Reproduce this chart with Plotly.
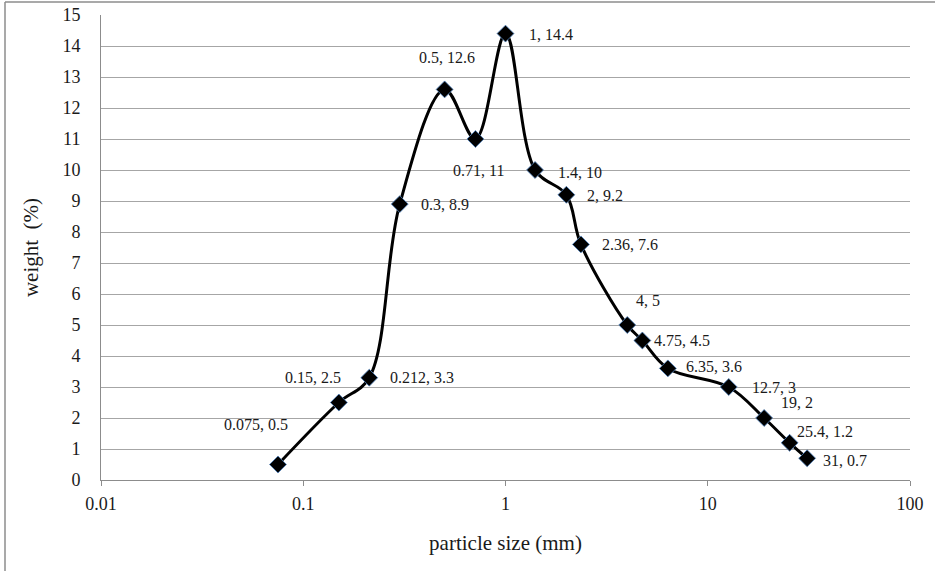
import math
import plotly.graph_objects as go

# data
particle_size = [0.075, 0.15, 0.212, 0.3, 0.5, 0.71, 1, 1.4, 2, 2.36, 4, 4.75, 6.35, 12.7, 19, 25.4, 31]
weight = [0.5, 2.5, 3.3, 8.9, 12.6, 11, 14.4, 10, 9.2, 7.6, 5, 4.5, 3.6, 3, 2, 1.2, 0.7]
x_ticks = [0.01, 0.1, 1, 10, 100]
x_tick_labels = ["0.01", "0.1", "1", "10", "100"]
y_ticks = list(range(0, 16))

# label placement (anchor, xshift, yshift) per point
label_pos = [
    ("right", 12, 40), ("right", 4, 25), ("left", 19, 0), ("left", 19, 0),
    ("center", 2, 32), ("center", 3, -31), ("left", 21, -1), ("left", 21, -2),
    ("left", 19, -1), ("left", 19, 0), ("left", 7, 25), ("left", 10, 0),
    ("left", 16, 2), ("left", 21, 0), ("left", 15, 16), ("left", 5, 11),
    ("left", 14, -2),
]

fig = go.Figure()
fig.add_trace(go.Scatter(
    x=particle_size, y=weight, mode="lines+markers",
    line=dict(color="black", width=3, shape="spline", smoothing=1.0),
    marker=dict(symbol="diamond", size=13, color="black",
                line=dict(color="#4f81bd", width=0.8)),
    showlegend=False, hoverinfo="x+y",
))

font_family = "Liberation Serif"
for xv, yv, (anc, dx, dy) in zip(particle_size, weight, label_pos):
    fig.add_annotation(
        x=math.log10(xv), y=yv, xref="x", yref="y",
        text=f"{xv:g}, {yv:g}", showarrow=False,
        xanchor=anc, yanchor="middle", xshift=dx, yshift=dy,
        font=dict(family=font_family, size=16, color="#1a1a1a"),
    )

fx0 = (5 - 101) / 809
fy1 = 1 + (15 - 2) / 465
fig.update_layout(
    width=935, height=571,
    margin=dict(l=101, r=25, t=15, b=91),
    paper_bgcolor="white", plot_bgcolor="white",
    font=dict(family=font_family, color="#1a1a1a"),
    xaxis=dict(
        type="log", range=[-2, 2], tickvals=x_ticks, ticktext=x_tick_labels,
        showgrid=False, showline=True, linecolor="#8c8c8c", linewidth=1,
        ticks="outside", ticklen=5, tickcolor="#8c8c8c",
        tickfont=dict(size=18), ticklabelstandoff=2, automargin=False,
        title=dict(text="particle size (mm)", font=dict(size=21), standoff=22),
        zeroline=False,
    ),
    yaxis=dict(
        range=[0, 15], tickvals=y_ticks, showgrid=True, gridcolor="#a6a6a6", gridwidth=1,
        showline=True, linecolor="#8c8c8c", linewidth=1, ticks="",
        tickfont=dict(size=18), ticklabelstandoff=16, automargin=False,
        title=dict(text="weight  (%)", font=dict(size=21), standoff=18),
        zeroline=False,
    ),
    shapes=[
        dict(type="line", xref="paper", yref="paper", x0=fx0, x1=fx0, y0=-0.3, y1=fy1,
             line=dict(color="#8c8c8c", width=1.5), layer="below"),
        dict(type="line", xref="paper", yref="paper", x0=fx0, x1=1.2, y0=fy1, y1=fy1,
             line=dict(color="#8c8c8c", width=1.5), layer="below"),
    ],
)

fig.write_html("out.html", config={"displayModeBar": False},
               post_script="document.body.style.margin='0';")
